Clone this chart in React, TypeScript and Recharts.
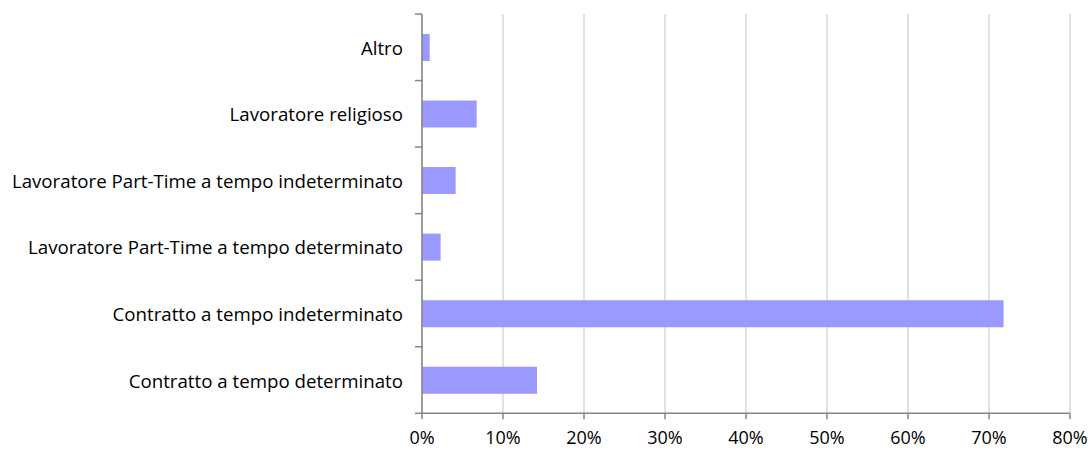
import React from "react";
import { BarChart, Bar, XAxis, YAxis, CartesianGrid } from "recharts";

const categories = [
  "Altro",
  "Lavoratore religioso",
  "Lavoratore Part-Time a tempo indeterminato",
  "Lavoratore Part-Time a tempo determinato",
  "Contratto a tempo indeterminato",
  "Contratto a tempo determinato",
];
const values = [0.95, 6.75, 4.15, 2.3, 71.8, 14.2];
const xTicks = [0, 10, 20, 30, 40, 50, 60, 70, 80];

const data = categories.map((name, i) => ({ name, value: values[i] }));

const FONT = "'Open Sans', sans-serif";
const AXIS = "#868686";

const W = 1091;
const H = 450;
const MARGIN = { top: 14, right: 21, bottom: 6.7, left: 0 };
const X_AXIS_H = 30;
const Y_AXIS_W = 422;
const plotH = H - MARGIN.top - MARGIN.bottom - X_AXIS_H;
const band = plotH / categories.length;

const CatTick = (props: any) => {
  const { x, y, payload, index } = props;
  const axisX = MARGIN.left + Y_AXIS_W;
  const isLast = index === categories.length - 1;
  return (
    <g>
      <line x1={axisX - 7} x2={axisX} y1={y - band / 2} y2={y - band / 2} stroke={AXIS} strokeWidth={1.5} />
      {isLast && (
        <line x1={axisX - 7} x2={axisX} y1={y + band / 2} y2={y + band / 2} stroke={AXIS} strokeWidth={1.5} />
      )}
      <text
        x={x}
        y={y}
        textAnchor="end"
        dominantBaseline="central"
        fill="#000"
        fontSize={18.7}
        fontFamily={FONT}
      >
        {payload.value}
      </text>
    </g>
  );
};

export default function App() {
  return (
    <div style={{ position: "fixed", left: 0, top: 0, width: W, height: H, background: "#fff" }}>
      <BarChart
        width={W}
        height={H}
        data={data}
        layout="vertical"
        margin={MARGIN}
        barCategoryGap="30%"
      >
        <CartesianGrid horizontal={false} stroke="#d9d9d9" strokeWidth={1.5} />
        <XAxis
          type="number"
          domain={[0, 80]}
          ticks={xTicks}
          tickFormatter={(v: number) => `${v}%`}
          height={X_AXIS_H}
          stroke={AXIS}
          strokeWidth={1.5}
          tickSize={6}
          tickMargin={12}
          tick={{ fill: "#000", fontSize: 18, fontFamily: FONT }}
          interval={0}
        />
        <YAxis
          type="category"
          dataKey="name"
          width={Y_AXIS_W}
          axisLine={{ stroke: AXIS, strokeWidth: 1.5 }}
          tickLine={false}
          tickSize={0}
          tickMargin={19}
          interval={0}
          tick={<CatTick />}
        />
        <Bar dataKey="value" fill="#9999ff" isAnimationActive={false} />
      </BarChart>
    </div>
  );
}
